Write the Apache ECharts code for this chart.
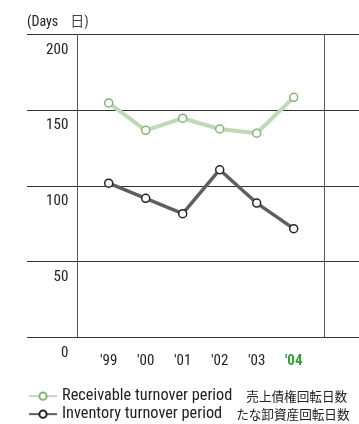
<!DOCTYPE html>
<html><head><meta charset="utf-8">
<script src="https://cdn.jsdelivr.net/npm/echarts@6/dist/echarts.min.js"></script>
<style>html,body{margin:0;padding:0;background:#fff}#c{width:359px;height:424px}</style>
</head><body><div id="c"></div>
<script>
const years = ["'99", "'00", "'01", "'02", "'03", "'04"];
const receivable = [154.7, 136.6, 144.6, 137.5, 134.7, 158.4];
const inventory = [101.7, 91.7, 81.6, 110.6, 88.6, 71.7];
const yTicks = [0, 50, 100, 150, 200];
const namesEn = ['Receivable turnover period', 'Inventory turnover period'];
const namesJp = ['売上債権回転日数', 'たな卸資産回転日数'];
const unitEn = '(Days';
const unitJp = '日)';

const FONT = "'Roboto Condensed','Noto Sans CJK JP',sans-serif";
const JP = "'Noto Sans CJK JP',sans-serif";
const TOP = 34.3, BOTTOM = 424 - 337.3;
const seriesNames = namesEn.map((e, i) => e + '|' + namesJp[i]);
const legendFmt = function (n) { const p = n.split('|'); return '{en|' + p[0] + '}{jp|' + p[1] + '}'; };
const legendRich = {
  en: {fontFamily: FONT, fontSize: 16.3, color: '#222', lineHeight: 18},
  jp: {fontFamily: JP, fontSize: 12.6, color: '#222', lineHeight: 18, padding: [0, 0, 0, 14]}
};
const chart = echarts.init(document.getElementById('c'), null, {renderer: 'canvas'});
chart.setOption({
  animation: false,
  textStyle: {fontFamily: FONT},
  title: {text: '{a|' + unitEn + '}{b|' + unitJp + '}', left: 27, top: 16, padding: 0,
    textStyle: {fontWeight: 'normal', rich: {
      a: {fontFamily: FONT, fontSize: 14, fontWeight: 'normal', color: '#222'},
      b: {fontFamily: FONT, fontSize: 14, fontWeight: 'normal', color: '#444', padding: [0, 0, 0, 12]}}}},
  grid: [
    {left: 27, right: 0, top: TOP, bottom: BOTTOM},
    {left: 77.3, right: 359 - 324.3, top: TOP, bottom: BOTTOM},
    {left: 108.7, right: 359 - 293.7, top: TOP, bottom: BOTTOM}
  ],
  xAxis: [
    {gridIndex: 0, type: 'value', min: 0, max: 1, show: false},
    {gridIndex: 1, type: 'value', min: 0, max: 1, interval: 1, axisLine: {show: false}, axisTick: {show: false}, axisLabel: {show: false},
      splitLine: {show: true, lineStyle: {color: '#555', width: 1}}},
    {gridIndex: 2, type: 'category', data: years, boundaryGap: false, axisLine: {show: false}, axisTick: {show: false},
      axisLabel: {interval: 0, margin: 16, fontSize: 15, fontFamily: FONT, color: '#222',
        formatter: function (v, i) { return i === years.length - 1 ? '{hl|' + v + '}' : v; },
        rich: {hl: {color: '#3a9a3a', fontWeight: 'bold', fontSize: 15, fontFamily: FONT}}}}
  ],
  yAxis: [
    {gridIndex: 0, type: 'value', min: 0, max: 200, interval: 50, axisLine: {show: false}, axisTick: {show: false}, axisLabel: {show: false},
      splitLine: {show: true, lineStyle: {color: '#333', width: 1}}},
    {gridIndex: 1, type: 'value', min: 0, max: 200, interval: 50, axisLine: {show: false}, axisTick: {show: false},
      axisLabel: {margin: 9, fontSize: 15, fontFamily: FONT, color: '#222', verticalAlign: 'top', padding: [8, 0, 0, 0],
        formatter: function (v) { return yTicks.indexOf(v) >= 0 ? String(v) : ''; }},
      splitLine: {show: false}},
    {gridIndex: 2, type: 'value', min: 0, max: 200, show: false}
  ],
  legend: [
    {left: 28, top: 388, padding: 0, itemGap: 0, itemWidth: 28, itemHeight: 9, data: [seriesNames[0]],
      formatter: legendFmt, textStyle: {rich: legendRich}},
    {left: 28, top: 406, padding: 0, itemGap: 0, itemWidth: 28, itemHeight: 9, data: [seriesNames[1]],
      formatter: legendFmt, textStyle: {rich: legendRich}}
  ],
  series: [
    {name: seriesNames[0], type: 'line', xAxisIndex: 2, yAxisIndex: 2, data: receivable,
      symbol: 'circle', symbolSize: 8,
      lineStyle: {color: '#c3d8b9', width: 4},
      itemStyle: {color: '#fff', borderColor: '#86b477', borderWidth: 1.5}, z: 3},
    {name: seriesNames[1], type: 'line', xAxisIndex: 2, yAxisIndex: 2, data: inventory,
      symbol: 'circle', symbolSize: 8,
      lineStyle: {color: '#5f5f5f', width: 3.5},
      itemStyle: {color: '#fff', borderColor: '#222', borderWidth: 1.5}, z: 3}
  ]
});
</script></body></html>
